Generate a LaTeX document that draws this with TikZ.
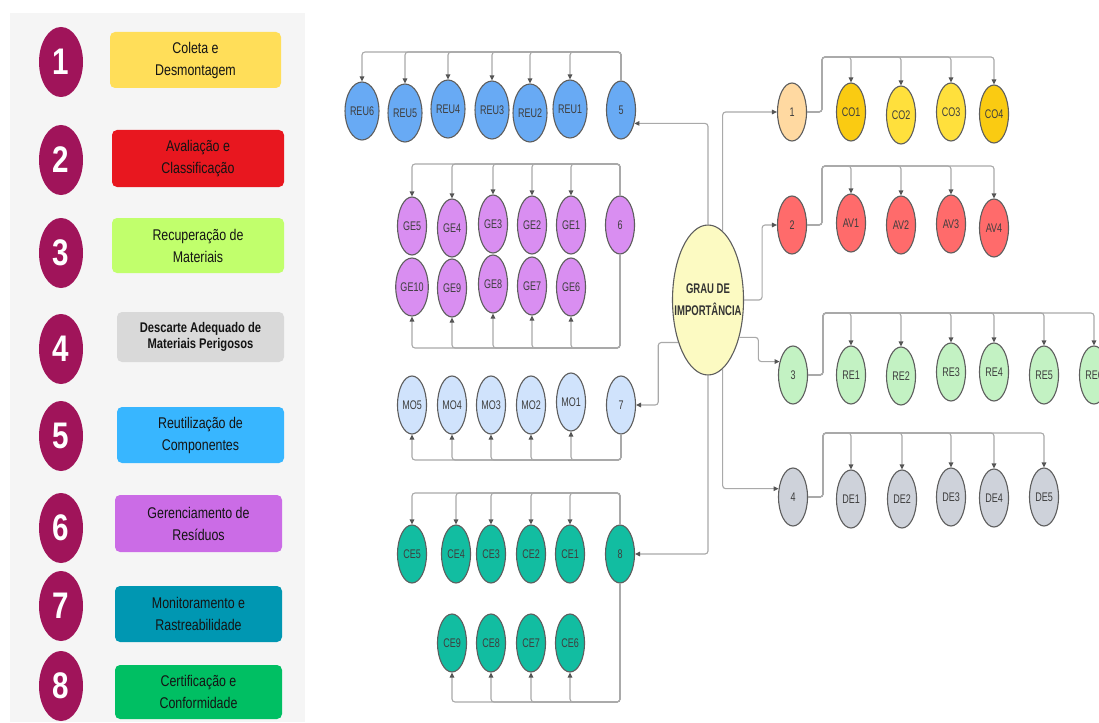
\documentclass[tikz,border=0pt]{standalone}
\usepackage{fontspec}
\setmainfont{Liberation Sans}
\newfontfamily\panelfont{Liberation Sans}[FakeStretch=0.8]
\newfontfamily\nodefont{Liberation Sans}[FakeStretch=0.72]
\newfontfamily\hubfont{Liberation Sans}[FakeStretch=0.68]
\usetikzlibrary{shapes.geometric,arrows.meta}

% legend colours
\definecolor{panelbg}{HTML}{F5F5F5}
\definecolor{badge}{HTML}{A0145A}
\definecolor{boxA}{HTML}{FFDE59}
\definecolor{boxB}{HTML}{E8171F}
\definecolor{boxC}{HTML}{C1FF6C}
\definecolor{boxD}{HTML}{D9D9D9}
\definecolor{boxE}{HTML}{38B6FF}
\definecolor{boxF}{HTML}{CB6CE6}
\definecolor{boxG}{HTML}{0097B2}
\definecolor{boxH}{HTML}{00BF63}
\definecolor{boxtext}{HTML}{141414}
% diagram colours
\definecolor{nodeline}{HTML}{5E5E5E}
\definecolor{nodetext}{HTML}{3E3E3E}
\definecolor{linkgray}{HTML}{A9A9A9}
\definecolor{tipgray}{HTML}{555555}
\definecolor{hubfill}{HTML}{FCFAC2}
\definecolor{reufill}{HTML}{68AAF4}
\definecolor{gefill}{HTML}{D98EF1}
\definecolor{mofill}{HTML}{D0E3FC}
\definecolor{cefill}{HTML}{12BDA1}
\definecolor{onefill}{HTML}{FFD9A1}
\definecolor{codark}{HTML}{FACB12}
\definecolor{colight}{HTML}{FFE03C}
\definecolor{avfill}{HTML}{FF6B6B}
\definecolor{refill}{HTML}{C3F2C3}
\definecolor{defill}{HTML}{CED2DA}

\tikzset{
  badgenode/.style={ellipse, fill=badge, minimum width=44pt, minimum height=70pt,
    inner sep=0pt, text=white, font=\panelfont\bfseries\fontsize{37}{37}\selectfont},
  pbox/.style={rounded corners=5pt, minimum width=#1, align=center, text=boxtext,
    font=\panelfont\fontsize{15.5}{22}\selectfont},
  bubble/.style={ellipse, draw=nodeline, line width=1.1pt, minimum width=29pt,
    minimum height=58pt, inner sep=0pt, text=nodetext,
    font=\nodefont\fontsize{12.5}{13}\selectfont},
  link/.style={draw=linkgray, line width=1.1pt, rounded corners=3pt},
  arr/.style={link, -{Triangle[length=5pt,width=4.5pt,color=tipgray]}},
}

\begin{document}
\begin{tikzpicture}[x=1pt,y=-1pt]
\useasboundingbox (0,0) rectangle (1099,722);
\fill[white] (0,0) rectangle (1099,722);

% ---------- legend panel ----------
\fill[panelbg] (10,13) rectangle (305,722);
\node[badgenode] (b1) at (61,62)  {1};
\node[badgenode] (b2) at (61,160) {2};
\node[badgenode] (b3) at (61,253) {3};
\node[badgenode] (b4) at (61,349) {4};
\node[badgenode] (b5) at (61,436) {5};
\node[badgenode] (b6) at (61,528) {6};
\node[badgenode] (b7) at (61,606) {7};
\node[badgenode] (b8) at (61,686) {8};

\node[pbox=171pt, fill=boxA, minimum height=56pt] (t1) at (195.5,60)  {Coleta e\\Desmontagem};
\node[pbox=172pt, fill=boxB, minimum height=57pt] (t2) at (198,158.5) {Avaliação e\\Classificação};
\node[pbox=172pt, fill=boxC, minimum height=55pt] (t3) at (198,245.5) {Recuperação de\\Materiais};
\node[pbox=167pt, fill=boxD, minimum height=50pt,
      font=\panelfont\bfseries\fontsize{14}{15.5}\selectfont] (t4) at (200.5,337) {Descarte Adequado de\\Materiais Perigosos};
\node[pbox=167pt, fill=boxE, minimum height=56pt] (t5) at (200.5,435) {Reutilização de\\Componentes};
\node[pbox=167pt, fill=boxF, minimum height=57pt] (t6) at (198.5,523.5) {Gerenciamento de\\Resíduos};
\node[pbox=167pt, fill=boxG, minimum height=56pt] (t7) at (198.5,614) {Monitoramento e\\Rastreabilidade};
\node[pbox=167pt, fill=boxH, minimum height=54pt] (t8) at (198.5,692) {Certificação e\\Conformidade};

% ---------- hub (shape and its caption) ----------
\node[ellipse, draw=nodeline, line width=1.1pt, fill=hubfill, minimum width=71pt,
      minimum height=150pt, inner sep=0pt] (c) at (708,300) {};
\node[align=center, inner sep=0pt, text=black!80,
      font=\hubfont\bfseries\fontsize{14}{22}\selectfont] (ctext) at (c.center) {GRAU DE\\IMPORTÂNCIA};

% ---------- group 5 : reuse ----------
\node[bubble, fill=reufill] (n5)   at (621,110) {5};
\node[bubble, fill=reufill] (REU1) at (570,109) {REU1};
\node[bubble, fill=reufill] (REU2) at (530,113) {REU2};
\node[bubble, fill=reufill] (REU3) at (492,110) {REU3};
\node[bubble, fill=reufill] (REU4) at (448,109) {REU4};
\node[bubble, fill=reufill] (REU5) at (405,113) {REU5};
\node[bubble, fill=reufill] (REU6) at (362,111) {REU6};

% ---------- group 6 : waste ----------
\node[bubble, fill=gefill] (n6)  at (620,225) {6};
\node[bubble, fill=gefill] (GE1) at (571,225) {GE1};
\node[bubble, fill=gefill] (GE2) at (532,225) {GE2};
\node[bubble, fill=gefill] (GE3) at (493,224) {GE3};
\node[bubble, fill=gefill] (GE4) at (452,228) {GE4};
\node[bubble, fill=gefill] (GE5) at (412,226) {GE5};
\node[bubble, fill=gefill] (GE6) at (571,287) {GE6};
\node[bubble, fill=gefill] (GE7) at (532,286) {GE7};
\node[bubble, fill=gefill] (GE8) at (493,284) {GE8};
\node[bubble, fill=gefill] (GE9) at (452,288) {GE9};
\node[bubble, fill=gefill] (GE10) at (412,287) {GE10};

% ---------- group 7 : monitoring ----------
\node[bubble, fill=mofill] (n7)  at (621,405) {7};
\node[bubble, fill=mofill] (MO1) at (571,402) {MO1};
\node[bubble, fill=mofill] (MO2) at (531,405) {MO2};
\node[bubble, fill=mofill] (MO3) at (491,405) {MO3};
\node[bubble, fill=mofill] (MO4) at (452,405) {MO4};
\node[bubble, fill=mofill] (MO5) at (412,405) {MO5};

% ---------- group 8 : certification ----------
\node[bubble, fill=cefill] (n8)  at (620,554) {8};
\node[bubble, fill=cefill] (CE1) at (570,554) {CE1};
\node[bubble, fill=cefill] (CE2) at (531,554) {CE2};
\node[bubble, fill=cefill] (CE3) at (491,554) {CE3};
\node[bubble, fill=cefill] (CE4) at (456,554) {CE4};
\node[bubble, fill=cefill] (CE5) at (412,554) {CE5};
\node[bubble, fill=cefill] (CE6) at (570,643) {CE6};
\node[bubble, fill=cefill] (CE7) at (531,643) {CE7};
\node[bubble, fill=cefill] (CE8) at (491,643) {CE8};
\node[bubble, fill=cefill] (CE9) at (452,643) {CE9};

% ---------- group 1 : collection ----------
\node[bubble, fill=onefill] (n1)  at (792,112) {1};
\node[bubble, fill=codark]  (CO1) at (851,112) {CO1};
\node[bubble, fill=colight] (CO2) at (901,115) {CO2};
\node[bubble, fill=colight] (CO3) at (951,112) {CO3};
\node[bubble, fill=codark]  (CO4) at (994,114) {CO4};

% ---------- group 2 : evaluation ----------
\node[bubble, fill=avfill] (n2)  at (792,225) {2};
\node[bubble, fill=avfill] (AV1) at (851,223) {AV1};
\node[bubble, fill=avfill] (AV2) at (901,225) {AV2};
\node[bubble, fill=avfill] (AV3) at (951,224) {AV3};
\node[bubble, fill=avfill] (AV4) at (994,228) {AV4};

% ---------- group 3 : recovery ----------
\node[bubble, fill=refill] (n3)  at (793,375) {3};
\node[bubble, fill=refill] (RE1) at (851,375) {RE1};
\node[bubble, fill=refill] (RE2) at (901,376) {RE2};
\node[bubble, fill=refill] (RE3) at (951,372) {RE3};
\node[bubble, fill=refill] (RE4) at (994,372) {RE4};
\node[bubble, fill=refill] (RE5) at (1044,375) {RE5};
\node[bubble, fill=refill] (RE6) at (1094,375) {RE6};

% ---------- group 4 : disposal ----------
\node[bubble, fill=defill] (n4)  at (793,497) {4};
\node[bubble, fill=defill] (DE1) at (851,499) {DE1};
\node[bubble, fill=defill] (DE2) at (902,499) {DE2};
\node[bubble, fill=defill] (DE3) at (951,497) {DE3};
\node[bubble, fill=defill] (DE4) at (994,498) {DE4};
\node[bubble, fill=defill] (DE5) at (1044,497) {DE5};

% ---------- hub to groups ----------
\draw[arr] (c.north) |- (n5.-45);
\draw[arr] (c.78) |- (n1.west);
\draw[arr] (c.east) -- ++(18,0) |- (n2.west);
\draw[arr] (c.-50) -- ++(19,0) |- (n3.135);
\draw[arr] (c.-78) |- (n4.150);
\draw[arr] (c.south) |- (n8.east);
\draw[arr] (c.-125) -- ++(-20,0) |- (n7.east);

% ---------- group buses (left) ----------
\foreach \k in {REU1,REU2,REU3,REU4,REU5,REU6}
  \draw[arr] (n5.north) -- (n5 |- 0,52) -| (\k.north);
\foreach \k in {GE1,GE2,GE3,GE4,GE5}
  \draw[arr] (n6.north) -- (n6 |- 0,164) -| (\k.north);
\foreach \k in {GE6,GE7,GE8,GE9,GE10}
  \draw[arr] (n6.south) -- (n6 |- 0,348) -| (\k.south);
\foreach \k in {MO1,MO2,MO3,MO4,MO5}
  \draw[arr] (n7.south) -- (n7 |- 0,460) -| (\k.south);
\foreach \k in {CE1,CE2,CE3,CE4,CE5}
  \draw[arr] (n8.north) -- (n8 |- 0,493) -| (\k.north);
\foreach \k in {CE6,CE7,CE8,CE9}
  \draw[arr] (n8.south) -- (n8 |- 0,702) -| (\k.south);

% ---------- group buses (right) ----------
\coordinate (bco) at (822,57);
\coordinate (bav) at (822,166);
\coordinate (bre) at (823,313);
\coordinate (bde) at (823,433);
\foreach \k in {CO1,CO2,CO3,CO4}
  \draw[arr] (n1.east) -| (bco) -| (\k.north);
\foreach \k in {AV1,AV2,AV3,AV4}
  \draw[arr] (n2.east) -| (bav) -| (\k.north);
\foreach \k in {RE1,RE2,RE3,RE4,RE5,RE6}
  \draw[arr] (n3.east) -| (bre) -| (\k.north);
\foreach \k in {DE1,DE2,DE3,DE4,DE5}
  \draw[arr] (n4.east) -| (bde) -| (\k.north);
\end{tikzpicture}
\end{document}
